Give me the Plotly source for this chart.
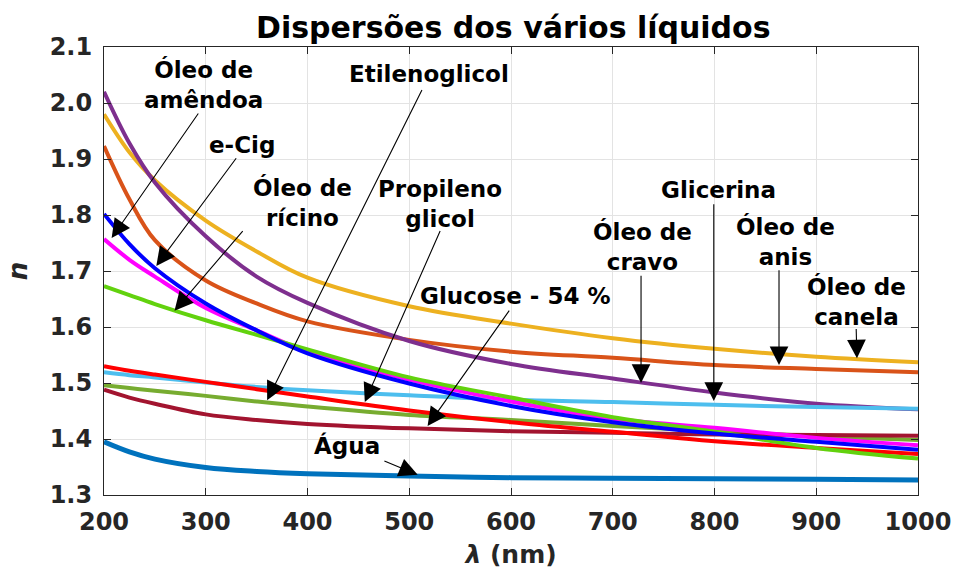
import plotly.graph_objects as go

# Wavelength grid (nm) at which refractive indices are tabulated
wavelength = [200, 225, 250, 300, 350, 400, 500, 600, 700, 800, 900, 1000]

n_canela = [1.980, 1.912, 1.862, 1.790, 1.735, 1.688, 1.637, 1.606, 1.580, 1.561, 1.547, 1.537]
n_cravo = [2.020, 1.928, 1.858, 1.762, 1.690, 1.643, 1.575, 1.534, 1.508, 1.483, 1.463, 1.453]
n_anis = [1.923, 1.828, 1.755, 1.683, 1.642, 1.610, 1.577, 1.556, 1.545, 1.532, 1.525, 1.519]
n_glicerina = [1.519, 1.514, 1.510, 1.501, 1.493, 1.487, 1.478, 1.470, 1.466, 1.461, 1.457, 1.454]
n_etilenoglicol = [1.496, 1.491, 1.486, 1.477, 1.467, 1.458, 1.443, 1.434, 1.423, 1.414, 1.405, 1.398]
n_glucose = [1.488, 1.474, 1.463, 1.444, 1.434, 1.427, 1.419, 1.414, 1.411, 1.408, 1.407, 1.406]
n_propileno = [1.530, 1.522, 1.515, 1.502, 1.489, 1.476, 1.451, 1.430, 1.413, 1.396, 1.384, 1.373]
n_amendoa = [1.757, 1.720, 1.690, 1.634, 1.594, 1.556, 1.506, 1.467, 1.436, 1.420, 1.402, 1.389]
n_ricino = [1.673, 1.657, 1.641, 1.612, 1.586, 1.560, 1.510, 1.474, 1.439, 1.413, 1.384, 1.365]
n_ecig = [1.802, 1.748, 1.705, 1.642, 1.594, 1.553, 1.499, 1.459, 1.430, 1.410, 1.395, 1.381]
n_agua = [1.395, 1.377, 1.364, 1.349, 1.342, 1.338, 1.334, 1.331, 1.330, 1.329, 1.328, 1.327]

x_ticks = [200, 300, 400, 500, 600, 700, 800, 900, 1000]
y_ticks = [1.3, 1.4, 1.5, 1.6, 1.7, 1.8, 1.9, 2.0, 2.1]

# (name, values, colour, width) in drawing order
series = [
    ("Óleo de canela", n_canela, "#EDB120", 4),
    ("Óleo de anis", n_anis, "#D95319", 4),
    ("Óleo de cravo", n_cravo, "#7E2F8E", 4),
    ("Glicerina", n_glicerina, "#4DBEEE", 4),
    ("Etilenoglicol", n_etilenoglicol, "#77AC30", 4),
    ("Glucose - 54 %", n_glucose, "#A2142F", 4),
    ("Propileno glicol", n_propileno, "#FF0000", 4),
    ("Óleo de amêndoa", n_amendoa, "#FF00FF", 4),
    ("Óleo de rícino", n_ricino, "#62D20E", 4),
    ("e-Cig", n_ecig, "#0000FF", 4),
    ("Água", n_agua, "#0072BD", 5),
]

fig = go.Figure()
for name, vals, color, width in series:
    fig.add_trace(go.Scatter(
        x=wavelength, y=vals, mode="lines", name=name,
        line=dict(color=color, width=width, shape="spline", smoothing=1.0),
        showlegend=False, hoverinfo="skip",
    ))

# Callouts: text, text position, arrow tail, arrow tip (data units)
callouts = [
    ("Óleo de<br>amêndoa", (298, 2.033), (293.7, 1.984), (207.5, 1.759)),
    ("e-Cig", (336, 1.925), (331, 1.904), (251.4, 1.709)),
    ("Óleo de<br>rícino", (395, 1.822), (337.6, 1.774), (269.3, 1.629)),
    ("Etilenoglicol", (519.5, 2.051), (513.2, 2.026), (360.3, 1.469)),
    ("Propileno<br>glicol", (530, 1.820), (531, 1.774), (456.3, 1.466)),
    ("Glucose - 54 %", (604, 1.656), (599.3, 1.632), (518, 1.423)),
    ("Água", (438.4, 1.389), (474.1, 1.362), (508.3, 1.336)),
    ("Óleo de<br>cravo", (728.8, 1.743), (727.8, 1.694), (727.8, 1.500)),
    ("Glicerina", (804.2, 1.845), (799.3, 1.822), (799.3, 1.468)),
    ("Óleo de<br>anis", (869.3, 1.753), (863.4, 1.704), (863.4, 1.532)),
    ("Óleo de<br>canela", (939.5, 1.646), (939.2, 1.599), (940, 1.544)),
]

label_font = dict(family="DejaVu Sans", size=23, color="black", weight="bold")
for text, (tx, ty), (ax, ay), (hx, hy) in callouts:
    fig.add_annotation(
        x=hx, y=hy, ax=ax, ay=ay, xref="x", yref="y", axref="x", ayref="y",
        text="", showarrow=True, arrowhead=2, arrowsize=3.4, arrowwidth=1.1,
        arrowcolor="black", standoff=0, startstandoff=0,
    )
    fig.add_annotation(
        x=tx, y=ty, xref="x", yref="y", text=text, showarrow=False,
        font=label_font, align="center", xanchor="center", yanchor="middle",
    )

axis_common = dict(
    showline=True, linecolor="#262626", linewidth=1, mirror="ticks",
    ticks="inside", ticklen=7, tickwidth=1, tickcolor="#262626",
    showgrid=True, gridcolor="#E3E3E3", gridwidth=1, zeroline=False,
    tickfont=dict(family="DejaVu Sans", size=24, color="#262626", weight="bold"),
)

fig.update_xaxes(
    range=[200, 1000], tickvals=x_ticks, ticktext=[str(v) for v in x_ticks],
    ticklabelstandoff=5,
    title=dict(text="<i>λ</i> (nm)", standoff=10,
               font=dict(family="DejaVu Sans", size=25, color="#262626", weight="bold")),
    **axis_common,
)
fig.update_yaxes(
    range=[1.3, 2.1], tickvals=y_ticks, ticktext=[f"{v:.1f}" for v in y_ticks],
    ticklabelstandoff=6,
    title=dict(text="<i>n</i>", standoff=14,
               font=dict(family="DejaVu Sans", size=26, color="#262626", weight="bold")),
    **axis_common,
)

fig.update_layout(
    width=963, height=575,
    margin=dict(l=104, r=39, t=47, b=78),
    paper_bgcolor="white", plot_bgcolor="white",
    title=dict(text="Dispersões dos vários líquidos", x=0.533, xanchor="center",
               y=0.953, yanchor="middle", yref="container",
               font=dict(family="DejaVu Sans", size=30, color="black", weight="bold")),
)

fig.write_html("out.html")
